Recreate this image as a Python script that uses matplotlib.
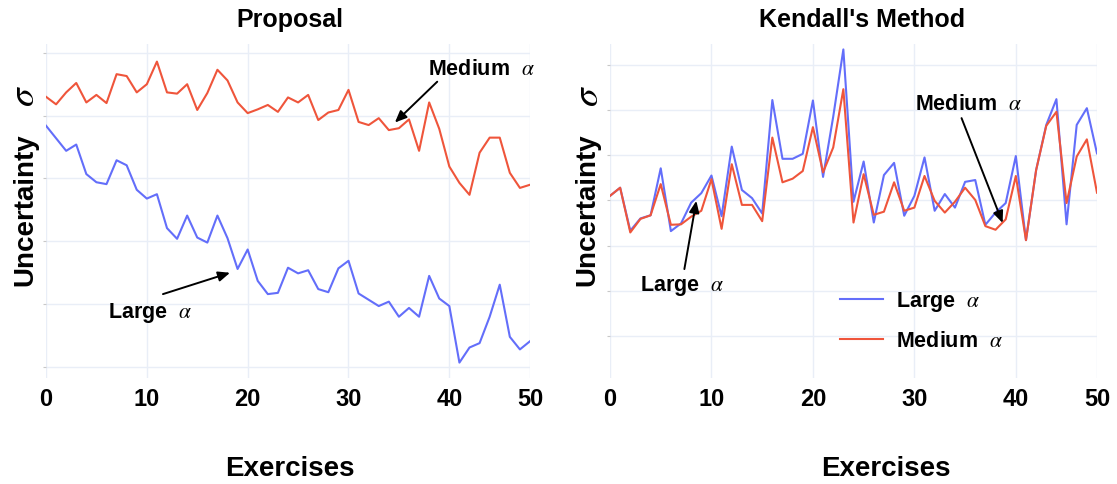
import matplotlib
matplotlib.use("Agg")
import matplotlib.pyplot as plt

# exercise index on the x axis
exercises = list(range(49))

# uncertainty values (arbitrary units)
proposal_large = [3.84, 3.64, 3.44, 3.54, 3.07, 2.94, 2.91, 3.29, 3.21, 2.82,
                  2.68, 2.75, 2.21, 2.04, 2.41, 2.06, 1.98, 2.41, 2.05, 1.56,
                  1.87, 1.37, 1.16, 1.18, 1.58, 1.49, 1.54, 1.24, 1.19, 1.57,
                  1.69, 1.17, 1.07, 0.97, 1.04, 0.80, 0.94, 0.80, 1.45, 1.09,
                  0.97, 0.07, 0.31, 0.38, 0.80, 1.31, 0.48, 0.28, 0.41]
proposal_medium = [4.30, 4.18, 4.37, 4.52, 4.21, 4.33, 4.20, 4.66, 4.63, 4.37,
                   4.50, 4.86, 4.37, 4.35, 4.50, 4.09, 4.36, 4.73, 4.56, 4.21,
                   4.04, 4.10, 4.17, 4.06, 4.29, 4.21, 4.33, 3.93, 4.05, 4.09,
                   4.41, 3.90, 3.85, 3.96, 3.77, 3.80, 3.94, 3.44, 4.21, 3.79,
                   3.19, 2.93, 2.74, 3.41, 3.65, 3.65, 3.09, 2.85, 2.90]
kendall_large = [4.10, 4.28, 3.33, 3.60, 3.67, 4.71, 3.32, 3.49, 3.95, 4.16,
                 4.55, 3.65, 5.19, 4.23, 4.05, 3.71, 6.22, 4.92, 4.92, 5.03,
                 6.21, 4.52, 5.85, 7.34, 3.97, 4.86, 3.51, 4.56, 4.83, 3.66,
                 4.10, 4.95, 3.77, 4.14, 3.84, 4.41, 4.45, 3.46, 3.73, 3.94,
                 4.98, 3.12, 4.67, 5.67, 6.24, 3.47, 5.67, 6.04, 5.04]
kendall_medium = [4.10, 4.28, 3.29, 3.59, 3.67, 4.36, 3.46, 3.47, 3.64, 3.77,
                  4.47, 3.37, 4.80, 3.90, 3.90, 3.54, 5.39, 4.40, 4.48, 4.65,
                  5.62, 4.62, 5.17, 6.46, 3.51, 4.58, 3.68, 3.75, 4.40, 3.77,
                  3.84, 4.54, 3.99, 3.73, 3.97, 4.28, 4.01, 3.43, 3.35, 3.58,
                  4.54, 3.12, 4.67, 5.65, 5.96, 3.94, 4.97, 5.35, 4.17]

xtick_pos = [0, 10, 20, 30, 40, 48]
xtick_labels = ["0", "10", "20", "30", "40", "50"]

BLUE = "#636EFA"
RED = "#EF553B"
GRID = "#E9EEF7"
NARROW = ["Liberation Sans Narrow", "Liberation Sans", "DejaVu Sans"]
SANS = ["Liberation Sans", "DejaVu Sans"]

plt.rcParams["mathtext.fontset"] = "stix"
plt.rcParams["font.family"] = SANS

fig = plt.figure(figsize=(11.17, 4.84), dpi=100)
ax1 = fig.add_axes([46 / 1117, 1 - 378 / 484, 484 / 1117, 334 / 484])
ax2 = fig.add_axes([610 / 1117, 1 - 378 / 484, 487 / 1117, 334 / 484])


def style(ax, ylim, yticks, title, title_x, xlabel_x, ylabel_x, sigma_x):
    ax.set_xlim(0, 48)
    ax.set_ylim(*ylim)
    ax.set_yticks(yticks)
    ax.set_yticklabels([])
    ax.set_xticks(xtick_pos)
    ax.set_xticklabels(xtick_labels, fontsize=17, fontweight="bold", family=NARROW)
    ax.grid(True, color=GRID, lw=1)
    ax.set_axisbelow(True)
    for s in ax.spines.values():
        s.set_visible(False)
    ax.tick_params(axis="x", length=0, pad=7)
    ax.tick_params(axis="y", length=2, color="#c8c8c8")
    ax.set_title(title, fontsize=18, fontweight="bold", x=title_x, pad=12)
    ax.set_xlabel("Exercises", fontsize=20, fontweight="bold", family=NARROW)
    ax.xaxis.set_label_coords(xlabel_x, -0.234)
    ax.set_ylabel("Uncertainty", fontsize=20, fontweight="bold")
    ax.yaxis.set_label_coords(ylabel_x, 0.505)
    # the sigma is drawn larger than the label text
    ax.text(sigma_x, 0.845, r"$\sigma$", fontsize=27, rotation=90,
            ha="center", va="center", transform=ax.transAxes)


arrow = dict(arrowstyle="-|>,head_length=0.7,head_width=0.3", color="black",
             lw=1.4, shrinkA=0, shrinkB=0)

# left panel
ax1.plot(exercises, proposal_medium, color=RED, lw=1.5)
ax1.plot(exercises, proposal_large, color=BLUE, lw=1.5)
style(ax1, (-0.175, 5.14), range(0, 6), "Proposal", 0.504, 0.504, -0.016, -0.045)
ax1.annotate("", xy=(18.25, 1.50), xytext=(11.6, 1.16), arrowprops=arrow)
ax1.text(6.15, 0.78, r"Large  $\alpha$", fontsize=15.5, fontweight="bold")
ax1.annotate("", xy=(34.6, 3.89), xytext=(38.8, 4.54), arrowprops=arrow)
ax1.text(37.9, 4.65, r"Medium  $\alpha$", fontsize=15.5, fontweight="bold")

# right panel
ax2.plot(exercises, kendall_large, color=BLUE, lw=1.5, label=r"Large  $\alpha$")
ax2.plot(exercises, kendall_medium, color=RED, lw=1.5, label=r"Medium  $\alpha$")
style(ax2, (0.07, 7.46), range(1, 8), "Kendall's Method", 0.517, 0.567, -0.019, -0.046)
ax2.annotate("", xy=(8.51, 3.99), xytext=(7.33, 2.48), arrowprops=arrow)
ax2.text(2.97, 2.0, r"Large  $\alpha$", fontsize=15.5, fontweight="bold")
ax2.annotate("", xy=(38.7, 3.50), xytext=(34.65, 5.82), arrowprops=arrow)
ax2.text(30.1, 6.0, r"Medium  $\alpha$", fontsize=15.5, fontweight="bold")

leg = ax2.legend(loc="upper left", bbox_to_anchor=(0.432, 0.322), frameon=False,
                 handlelength=2.0, handletextpad=0.6, labelspacing=0.78,
                 prop={"size": 15.5, "weight": "bold"})

fig.savefig("out.png", dpi=100)
